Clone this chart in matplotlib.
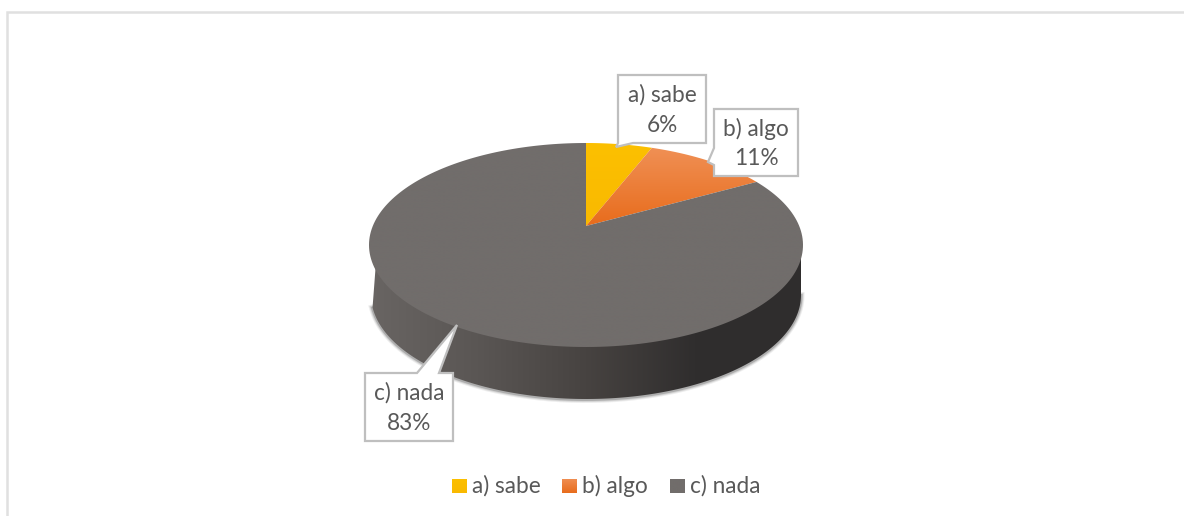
import numpy as np
import matplotlib
matplotlib.use('Agg')
import matplotlib.pyplot as plt
from matplotlib.colors import LinearSegmentedColormap
from matplotlib.patches import Polygon, Rectangle

labels = ['a) sabe', 'b) algo', 'c) nada']
values = [6, 11, 83]
pct_labels = ['6%', '11%', '83%']

TEXT_COL = '#595959'
BOX_COL = '#bfbfbf'
FRAME_COL = '#e0e0e0'

# pie geometry in pixels (perspective look: apex sits above the ellipse centre)
cx, cy = 586, 245
rx, ry = 217, 102
apex_y = 226
# lower rim of the wall
wall_rx, wall_ry = 215, 104
wall_cy = 295

# top/bottom colours of each slice
slice_cols = [('#fcc000', '#f9b900'), ('#f09055', '#e86c1c'), ('#716d6b', '#716d6b')]


def ray_to_rim(angle):
    # ray from the apex, clockwise from 12 o'clock, hitting the ellipse rim
    dx = np.sin(angle)
    dy = -(ry / rx) * np.cos(angle)
    oy = apex_y - cy
    a = (dx / rx) ** 2 + (dy / ry) ** 2
    b = 2 * oy * dy / ry ** 2
    c = (oy / ry) ** 2 - 1
    t = (-b + np.sqrt(b * b - 4 * a * c)) / (2 * a)
    return cx + t * dx, apex_y + t * dy


def gradient_fill(ax, path_patch, col1, col2, extent, horizontal=False, zorder=2):
    # image gradient clipped to a polygon
    cmap = LinearSegmentedColormap.from_list('g', [col1, col2])
    grad = np.linspace(0, 1, 256)
    grad = grad.reshape(1, -1) if horizontal else grad.reshape(-1, 1)
    ax.add_patch(path_patch)
    im = ax.imshow(grad, cmap=cmap, extent=extent, aspect='auto', origin='upper',
                   interpolation='bilinear', zorder=zorder)
    im.set_clip_path(path_patch)


def callout(ax, x0, y0, x1, y1, pointer, text):
    poly = Polygon(pointer(x0, y0, x1, y1), closed=True, facecolor='white', edgecolor=BOX_COL,
                   linewidth=1.6, joinstyle='miter', zorder=5)
    ax.add_patch(poly)
    ax.text((x0 + x1) / 2, (y0 + y1) / 2 + 1, text, ha='center', va='center', color=TEXT_COL,
            fontsize=16.3, linespacing=1.5, zorder=6)


fig = plt.figure(figsize=(11.84, 5.16), dpi=100)
plt.rcParams['font.family'] = ['Lato', 'DejaVu Sans']
ax = fig.add_axes([0, 0, 1, 1])
ax.set_xlim(0, 1184)
ax.set_ylim(516, 0)
ax.axis('off')

# chart frame
ax.plot([7, 7, 1184], [516, 12, 12], color=FRAME_COL, linewidth=1.8, solid_joinstyle='miter', zorder=1)

# side wall of the pie, with the small notch on the left where it meets the top face
t = np.linspace(np.pi + 0.12, 2 * np.pi, 300)
low_x = cx + wall_rx * np.cos(t)
low_y = wall_cy - wall_ry * np.sin(t)
side_pts = np.vstack([[(376, 262)], np.column_stack([low_x, low_y]), [(cx + wall_rx, cy)]])

# soft shadow round the wall
for w, al in zip([7, 5, 3], [0.10, 0.16, 0.30]):
    ax.plot(low_x, low_y + 0.5, color='#555555', linewidth=w * 0.72, alpha=al, zorder=1.5)

cmap_side = LinearSegmentedColormap.from_list('side', ['#696563', '#5a5654', '#474341', '#302e2e', '#2f2d2d'])
side = Polygon(side_pts, closed=True, facecolor='none', edgecolor='none')
ax.add_patch(side)
im = ax.imshow(np.linspace(0, 1, 256).reshape(1, -1), cmap=cmap_side, aspect='auto',
               extent=[cx - rx, cx + rx, wall_cy + wall_ry, cy - ry], interpolation='bilinear', zorder=2)
im.set_clip_path(side)

# top face, slices from the values
total = sum(values)
start = 0.0
for val, cols in zip(values, slice_cols):
    end = start + val / total * 2 * np.pi
    angs = np.linspace(start, end, 200)
    rim = [ray_to_rim(a) for a in angs]
    pts = [(cx, apex_y)] + rim
    wedge = Polygon(pts, closed=True, facecolor='none', edgecolor='none')
    top_y = min(p[1] for p in pts)
    bot_y = max(p[1] for p in pts)
    gradient_fill(ax, wedge, cols[0], cols[1], [cx - rx, cx + rx, bot_y, top_y], zorder=3)
    start = end


# data label callouts
def ptr_a(x0, y0, x1, y1):
    return [(x0, y0), (x1, y0), (x1, y1), (633, y1), (616, 147), (x0, y1)]


def ptr_b(x0, y0, x1, y1):
    return [(x0, y0), (x1, y0), (x1, y1), (x0, y1), (x0, 165), (708, 162), (x0, 148)]


def ptr_c(x0, y0, x1, y1):
    return [(x0, y0), (417, y0), (457, 325), (439, y0), (x1, y0), (x1, y1), (x0, y1)]


boxes = [(618, 75, 706, 143, ptr_a), (714, 109, 798, 176, ptr_b), (365, 373, 453, 441, ptr_c)]
for box, lab, pct in zip(boxes, labels, pct_labels):
    callout(ax, box[0], box[1], box[2], box[3], box[4], lab + '\n' + pct)

# legend
legend_x = [452, 562, 670]
for x, lab, cols in zip(legend_x, labels, slice_cols):
    swatch = Rectangle((x, 479), 14.5, 14.5, facecolor='none', edgecolor='none')
    gradient_fill(ax, swatch, cols[0], cols[1], [x, x + 14.5, 493.5, 479], zorder=3)
    ax.text(x + 19.5, 486, lab, ha='left', va='center', color=TEXT_COL, fontsize=16.3)

fig.savefig('out.png', dpi=100)
